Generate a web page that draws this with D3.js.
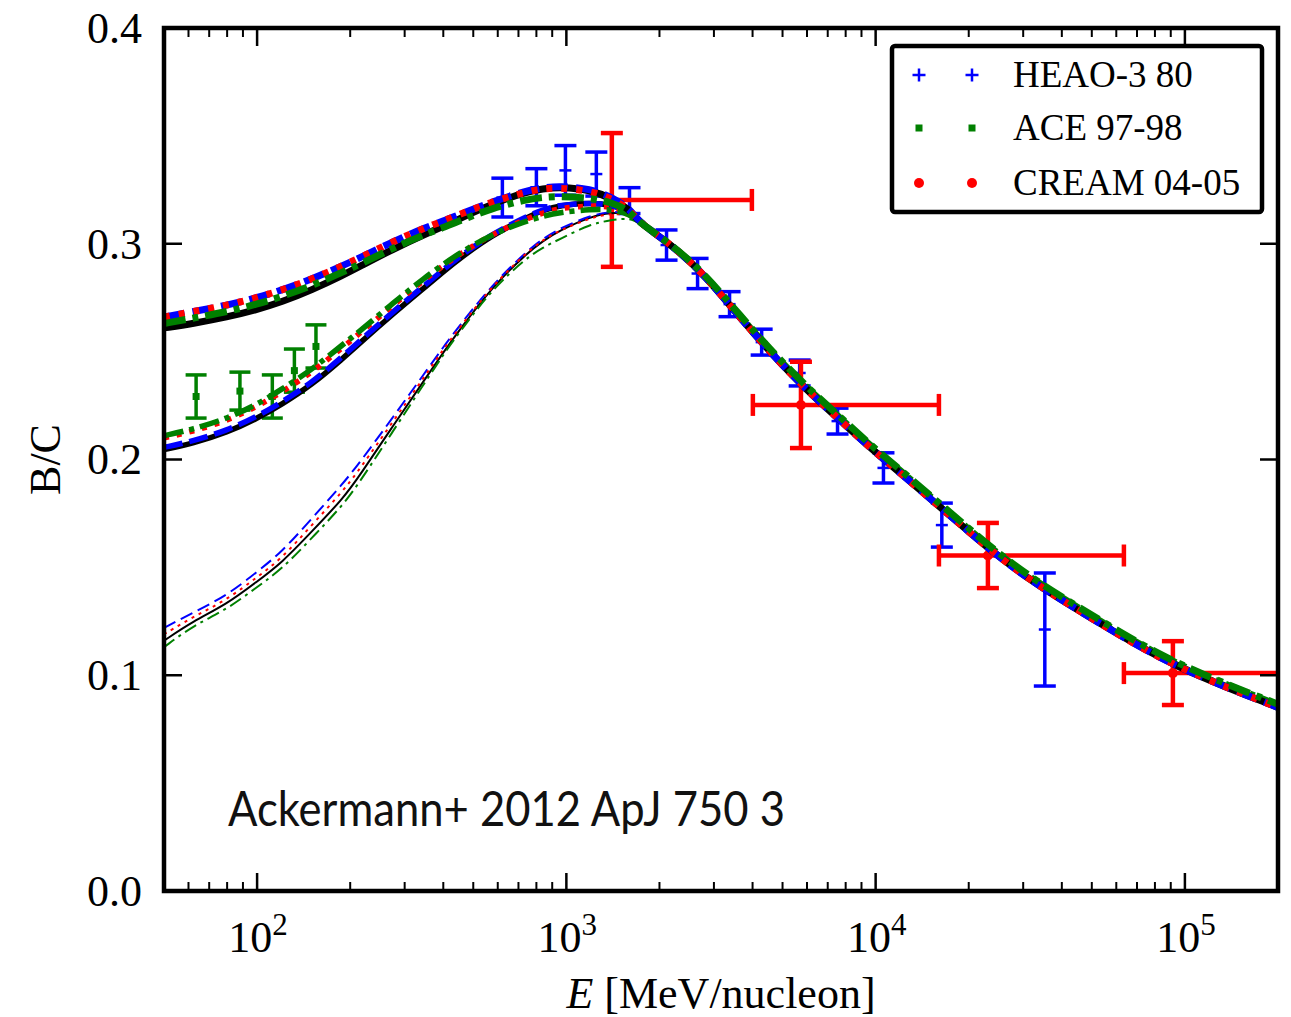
<!DOCTYPE html>
<html><head><meta charset="utf-8">
<script src="https://cdn.jsdelivr.net/npm/d3@7"></script>
<style>body{margin:0;background:#fff}svg{display:block}</style>
</head><body>
<svg id="c" width="1291" height="1017"></svg>
<script>
// ---------- data ----------
const xDomain = [50, 200000];
const yDomain = [0, 0.4];
const xMajorTicks = [100, 1000, 10000, 100000];
const xTickExponents = ["2", "3", "4", "5"];
const yTicks = [0, 0.1, 0.2, 0.3, 0.4];
const yTickLabels = ["0.0", "0.1", "0.2", "0.3", "0.4"];

// model curves (low-energy part, differs per modulation group)
const E_low = [50, 62, 80, 100, 120, 150, 190, 215, 275, 350, 400, 450, 575, 740, 840, 950, 1200, 1400, 1600];
const g1_black = [.261,.263,.266,.2695,.273,.2785,.2855,.2895,.2975,.3045,.308,.3115,.3185,.324,.3255,.3263,.325,.321,.316];
const g1_blue  = [.266,.2685,.2715,.275,.2785,.2835,.29,.2935,.301,.3075,.3105,.3135,.3195,.3245,.326,.3268,.3255,.3215,.3165];
const g1_red   = [.266,.2685,.2715,.275,.2785,.2835,.29,.2935,.301,.3075,.3105,.3135,.3195,.324,.3255,.326,.3245,.321,.316];
const g1_green = [.263,.2655,.2685,.272,.2755,.2805,.287,.2905,.298,.3045,.3075,.3105,.3165,.3205,.3215,.322,.3212,.3192,.3152];
const g2_black = [.2046,.2075,.2125,.219,.2255,.2345,.247,.254,.2675,.280,.287,.293,.304,.312,.3155,.3178,.319,.318,.315];
const g2_blue  = [.2056,.2085,.2135,.220,.2265,.2355,.248,.255,.2685,.281,.288,.294,.3045,.3125,.3158,.318,.319,.318,.315];
const g2_red   = [.210,.213,.218,.2245,.2312,.2402,.2522,.2585,.2715,.2837,.2898,.295,.3045,.3115,.3143,.3165,.3177,.3172,.3148];
const g2_green = [.211,.214,.219,.2255,.2325,.2415,.2535,.2595,.2725,.2845,.2905,.2955,.3045,.3105,.3128,.3145,.316,.3158,.314];
const g3_black = [.116,.125,.133,.1435,.152,.1665,.182,.1927,.2156,.2375,.2496,.2598,.2799,.2952,.3013,.3061,.3127,.3145,.314];
const g3_blue  = [.122,.129,.137,.148,.157,.1725,.189,.1987,.2196,.2405,.2521,.2618,.2809,.2962,.3023,.3071,.3132,.315,.3145];
const g3_red   = [.119,.127,.135,.1455,.154,.1695,.1855,.1957,.2176,.239,.2511,.2608,.2804,.2957,.3018,.3061,.3122,.314,.3135];
const g3_green = [.113,.123,.1305,.141,.149,.1635,.179,.1897,.2131,.236,.2486,.2588,.2789,.2932,.2983,.3021,.3092,.311,.312];
// high-energy part (all curves converge)
const E_tail = [1722, 2200, 2840, 3630, 4650, 5980, 7640, 9770, 11970, 15290, 19670, 23400, 32200, 53100, 91400, 200000];
const tail_common = [.3096,.2994,.2846,.2660,.2484,.2322,.2185,.2044,.1940,.1808,.1675,.1582,.1430,.1240,.1040,.0851];
const tail_green  = [.3096,.2996,.2851,.2670,.2497,.2337,.2200,.2059,.1955,.1823,.1690,.1597,.1445,.1255,.1055,.0866];

// HEAO-3 80
const heaoE   = [621, 800, 993, 1250, 1600, 2108, 2656, 3370, 4280, 5680, 7530, 10600, 16370, 35240];
const heaoBC  = [0.3214, 0.3262, 0.334, 0.3323, 0.320, 0.2994, 0.2862, 0.2720, 0.2544, 0.2401, 0.2178, 0.1961, 0.1696, 0.1212];
const heaoErr = [0.009, 0.0086, 0.0115, 0.0102, 0.006, 0.007, 0.007, 0.0058, 0.006, 0.006, 0.006, 0.007, 0.0102, 0.0262];
// ACE 97-98
const aceE   = [63.5, 88, 112, 132, 155];
const aceBC  = [0.2292, 0.2317, 0.2292, 0.2412, 0.2524];
const aceErr = [0.010, 0.0088, 0.010, 0.010, 0.010];
// CREAM 04-05
const creamE    = [1403, 5735, 23070, 91450];
const creamELow = [1403, 4009, 16020, 63500];
const creamEHigh= [3980, 16020, 63500, 250000];
const creamBC   = [0.3203, 0.2253, 0.1555, 0.1010];
const creamErr  = [0.031, 0.020, 0.0151, 0.0148];

const legendLabels = ["HEAO-3 80", "ACE 97-98", "CREAM 04-05"];
const annotation = "Ackermann+ 2012 ApJ 750 3";

// ---------- drawing ----------
const svg = d3.select("#c");
const X0 = 164, X1 = 1278, Y0 = 28, Y1 = 891;
const x = d3.scaleLog().domain(xDomain).range([X0, X1]);
const y = d3.scaleLinear().domain(yDomain).range([Y1, Y0]);
const serif = "'Liberation Serif','Times New Roman',serif";

svg.append("rect").attr("width",1291).attr("height",1017).attr("fill","#fff");
svg.append("clipPath").attr("id","clip").append("rect")
  .attr("x",X0).attr("y",Y0).attr("width",X1-X0).attr("height",Y1-Y0);
const plot = svg.append("g").attr("clip-path","url(#clip)");

const blue="#0000ff", green="#008000", red="#ff0000";
function vbar(g, xv, yv, err, col, lw, cap){
  const px = x(xv);
  g.append("line").attr("x1",px).attr("x2",px).attr("y1",y(yv-err)).attr("y2",y(yv+err))
    .attr("stroke",col).attr("stroke-width",lw);
  [yv-err, yv+err].forEach(v=>g.append("line").attr("x1",px-cap/2).attr("x2",px+cap/2)
    .attr("y1",y(v)).attr("y2",y(v)).attr("stroke",col).attr("stroke-width",lw));
}
const dataG = plot.append("g");
heaoE.forEach((e,i)=>{
  vbar(dataG, e, heaoBC[i], heaoErr[i], blue, 3.5, 22);
  const px=x(e), py=y(heaoBC[i]);
  dataG.append("line").attr("x1",px-6).attr("x2",px+6).attr("y1",py).attr("y2",py).attr("stroke",blue).attr("stroke-width",2.5);
});
aceE.forEach((e,i)=>{
  vbar(dataG, e, aceBC[i], aceErr[i], green, 3.5, 21);
  dataG.append("rect").attr("x",x(e)-3.5).attr("y",y(aceBC[i])-3.5).attr("width",7).attr("height",7).attr("fill",green);
});
creamE.forEach((e,i)=>{
  vbar(dataG, e, creamBC[i], creamErr[i], red, 4.5, 22);
  const py=y(creamBC[i]);
  dataG.append("line").attr("x1",x(creamELow[i])).attr("x2",x(creamEHigh[i])).attr("y1",py).attr("y2",py)
    .attr("stroke",red).attr("stroke-width",4.5);
  [creamELow[i], creamEHigh[i]].forEach(v=>{ if(v!==e) dataG.append("line").attr("x1",x(v)).attr("x2",x(v))
    .attr("y1",py-11).attr("y2",py+11).attr("stroke",red).attr("stroke-width",4.5);});
  dataG.append("circle").attr("cx",x(e)).attr("cy",py).attr("r",5).attr("fill",red);
});

// model curves
const line = d3.line().x(d=>x(d[0])).y(d=>y(d[1])).curve(d3.curveBasis);
function series(low, tail){ return E_low.map((e,i)=>[e,low[i]]).concat(E_tail.map((e,i)=>[e,tail[i]])); }
const groups = [
  {w:2, dash:{dashed:"13,6", dotted:"3,5", dashdot:"13,5,3,5"}, c:[g3_black,g3_blue,g3_red,g3_green]},
  {w:5.5, dash:{dashed:"19,7", dotted:"5,8", dashdot:"20,6,5,6"}, c:[g2_black,g2_blue,g2_red,g2_green]},
  {w:7,   dash:{dashed:"21,8", dotted:"6,9", dashdot:"22,7,6,7"}, c:[g1_black,g1_blue,g1_red,g1_green]}
];
const curveG = plot.append("g").attr("fill","none");
groups.forEach(g=>{
  const styles = [["#000",null],[blue,g.dash.dashed],[red,g.dash.dotted],[green,g.dash.dashdot]];
  g.c.forEach((vals,k)=>{
    curveG.append("path").datum(series(vals, k===3?tail_green:tail_common))
      .attr("d",line).attr("stroke",styles[k][0]).attr("stroke-width",g.w)
      .attr("stroke-dasharray",styles[k][1]);
  });
});

// ticks
const axG = svg.append("g").attr("stroke","#000");
const minor = x.ticks().filter(t=>!xMajorTicks.includes(t) && t>xDomain[0]*1.001 && t<xDomain[1]*0.999);
minor.forEach(t=>{
  axG.append("line").attr("x1",x(t)).attr("x2",x(t)).attr("y1",Y1).attr("y2",Y1-9).attr("stroke-width",2);
  axG.append("line").attr("x1",x(t)).attr("x2",x(t)).attr("y1",Y0).attr("y2",Y0+9).attr("stroke-width",2);
});
xMajorTicks.forEach(t=>{
  axG.append("line").attr("x1",x(t)).attr("x2",x(t)).attr("y1",Y1).attr("y2",Y1-18).attr("stroke-width",2.5);
  axG.append("line").attr("x1",x(t)).attr("x2",x(t)).attr("y1",Y0).attr("y2",Y0+18).attr("stroke-width",2.5);
});
yTicks.forEach(t=>{
  axG.append("line").attr("x1",X0).attr("x2",X0+18).attr("y1",y(t)).attr("y2",y(t)).attr("stroke-width",2.5);
  axG.append("line").attr("x1",X1).attr("x2",X1-18).attr("y1",y(t)).attr("y2",y(t)).attr("stroke-width",2.5);
});
svg.append("rect").attr("x",X0).attr("y",Y0).attr("width",X1-X0).attr("height",Y1-Y0)
  .attr("fill","none").attr("stroke","#000").attr("stroke-width",4.5);

// tick labels
yTicks.forEach((t,i)=>{
  svg.append("text").attr("x",142).attr("y",y(t)).attr("dy","0.34em").attr("text-anchor","end")
    .attr("font-family",serif).attr("font-size",44).text(yTickLabels[i]);
});
xMajorTicks.forEach((t,i)=>{
  const tx = svg.append("text").attr("x",x(t)+1).attr("y",952).attr("text-anchor","middle")
    .attr("font-family",serif).attr("font-size",44);
  tx.append("tspan").text("10");
  tx.append("tspan").attr("font-size",31).attr("dy",-17).text(xTickExponents[i]);
});
const xl = svg.append("text").attr("x",(X0+X1)/2).attr("y",1008).attr("text-anchor","middle")
  .attr("font-family",serif).attr("font-size",44);
xl.append("tspan").attr("font-style","italic").text("E");
xl.append("tspan").text(" [MeV/nucleon]");
svg.append("text").attr("transform",`translate(60,${(Y0+Y1)/2}) rotate(-90)`).attr("text-anchor","middle")
  .attr("font-family",serif).attr("font-size",44).text("B/C");

// annotation
svg.append("text").attr("x",228).attr("y",826).attr("font-family","Lato, 'Open Sans', sans-serif")
  .attr("font-size",48).attr("textLength",557).attr("lengthAdjust","spacingAndGlyphs").attr("fill","#111").text(annotation);

// legend
const lg = svg.append("g");
lg.append("rect").attr("x",892).attr("y",46).attr("width",370).attr("height",166).attr("rx",3)
  .attr("fill","#fff").attr("stroke","#000").attr("stroke-width",4.5);
const rowsY = [75, 128, 183];
const mx = [919, 972];
mx.forEach(px=>{
  lg.append("line").attr("x1",px-6.5).attr("x2",px+6.5).attr("y1",rowsY[0]).attr("y2",rowsY[0]).attr("stroke",blue).attr("stroke-width",2.5);
  lg.append("line").attr("x1",px).attr("x2",px).attr("y1",rowsY[0]-6.5).attr("y2",rowsY[0]+6.5).attr("stroke",blue).attr("stroke-width",2.5);
  lg.append("rect").attr("x",px-3.5).attr("y",rowsY[1]-3.5).attr("width",7).attr("height",7).attr("fill",green);
  lg.append("circle").attr("cx",px).attr("cy",rowsY[2]).attr("r",5).attr("fill",red);
});
legendLabels.forEach((s,i)=>{
  lg.append("text").attr("x",1013).attr("y",rowsY[i]+12).attr("font-family",serif).attr("font-size",37).text(s);
});
</script>
</body></html>
